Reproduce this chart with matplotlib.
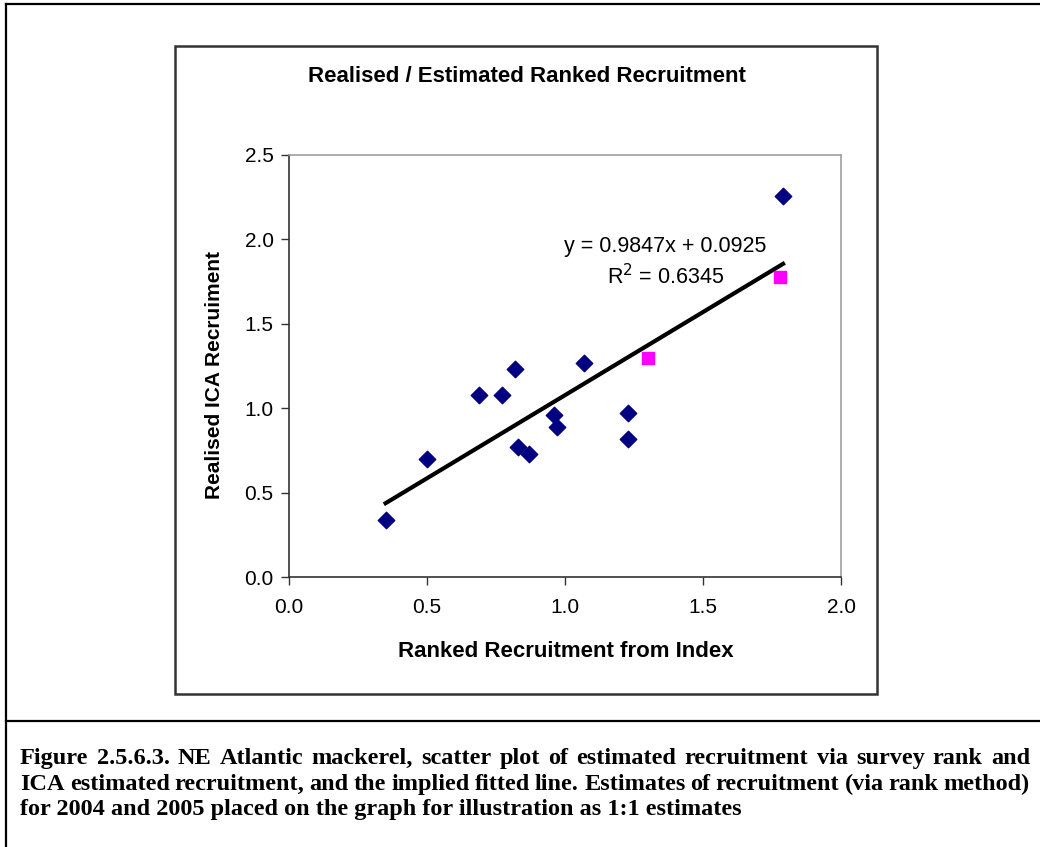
import numpy as np
import matplotlib.pyplot as plt
from matplotlib.patches import Rectangle
from matplotlib.lines import Line2D

# ranked recruitment from index vs realised ICA recruitment
index_rank = [0.35, 0.50, 0.69, 0.77, 0.82, 0.83, 0.87, 0.96, 0.97, 1.07, 1.23, 1.23, 1.79]
ica_recruit = [0.34, 0.70, 1.08, 1.08, 1.23, 0.77, 0.73, 0.96, 0.89, 1.27, 0.97, 0.82, 2.26]

# 2004 and 2005 rank estimates, drawn as 1:1 points
est_rank = [1.30, 1.78]
est_recruit = [1.30, 1.78]

slope, intercept, r2 = 0.9847, 0.0925, 0.6345

caption = [
    "Figure 2.5.6.3. NE Atlantic mackerel, scatter plot of estimated recruitment via survey rank and",
    "ICA estimated recruitment, and the implied fitted line. Estimates of recruitment (via rank method)",
    "for 2004 and 2005 placed on the graph for illustration as 1:1 estimates",
]

W, H = 1040, 847
fig = plt.figure(figsize=(W / 100, H / 100), dpi=100)


def fx(px):
    return px / W


def fy(py):
    return 1 - py / H


# page frame and chart box
fig.add_artist(Line2D([fx(6), 1], [fy(4), fy(4)], color="black", lw=1.6))
fig.add_artist(Line2D([fx(6), fx(6)], [fy(4), 0], color="black", lw=1.6))
fig.add_artist(Line2D([fx(6), 1], [fy(721), fy(721)], color="black", lw=1.6))
fig.add_artist(Rectangle((fx(175), fy(694)), fx(877 - 175), (694 - 46) / H,
                         fill=False, edgecolor="#333333", lw=1.8))

ax = fig.add_axes([fx(289), fy(577), fx(841 - 289), (577 - 155) / H])
ax.set_xlim(0, 2.0)
ax.set_ylim(0, 2.5)
ax.set_xticks(np.arange(0, 2.01, 0.5))
ax.set_yticks(np.arange(0, 2.51, 0.5))
ax.xaxis.set_major_formatter(plt.FormatStrFormatter("%.1f"))
ax.yaxis.set_major_formatter(plt.FormatStrFormatter("%.1f"))
ax.tick_params(direction="out", length=6, width=1, color="#333333",
               labelsize=15, pad=5)
ax.tick_params(axis="x", pad=9)
for lab in ax.get_xticklabels() + ax.get_yticklabels():
    lab.set_family("Liberation Sans")
for s in ["top", "right"]:
    ax.spines[s].set_color("#a0a0a0")
    ax.spines[s].set_linewidth(1.2)
for s in ["left", "bottom"]:
    ax.spines[s].set_color("#333333")
    ax.spines[s].set_linewidth(1.2)

ax.scatter(index_rank, ica_recruit, marker="D", s=70, color="#000080", zorder=3)
ax.scatter(est_rank, est_recruit, marker="s", s=75, color="#ff00ff", zorder=3)

xs = np.array([min(index_rank), max(index_rank)])
ax.plot(xs, slope * xs + intercept, color="black", lw=3, zorder=2)

ax.text(1.363, 1.957, f"y = {slope}x + {intercept}", ha="center", va="center",
        fontsize=15.5, family="Liberation Sans")
ax.text(1.363, 1.78, f"R$^2$ = {r2}", ha="center", va="center",
        fontsize=15.5, family="Liberation Sans")

fig.text(fx(527), fy(77), "Realised / Estimated Ranked Recruitment", ha="center",
         va="center", fontsize=16, fontweight="bold", family="Liberation Sans")
fig.text(fx(566), fy(651), "Ranked Recruitment from Index", ha="center",
         va="center", fontsize=16, fontweight="bold", family="Liberation Sans")
fig.text(fx(215), fy(375), "Realised ICA Recruiment", ha="center", va="center",
         rotation=90, fontsize=15, fontweight="bold", family="Liberation Sans")

# justified caption below the divider
renderer = fig.canvas.get_renderer()
left, right = 20, 1030
line_y = [758, 784, 809]
for i, (line, py) in enumerate(zip(caption, line_y)):
    words = line.split(" ")
    kw = dict(fontsize=17.5, fontweight="bold", family="Liberation Serif",
              va="center", ha="left")
    if i == len(caption) - 1:
        fig.text(fx(left), fy(py), line, **kw)
        continue
    arts = [fig.text(0, fy(py), w, **kw) for w in words]
    widths = [a.get_window_extent(renderer).width for a in arts]
    gap = (right - left - sum(widths)) / (len(words) - 1)
    x = left
    for a, w in zip(arts, widths):
        a.set_x(fx(x))
        x += w + gap

fig.savefig("out.png", dpi=100)
